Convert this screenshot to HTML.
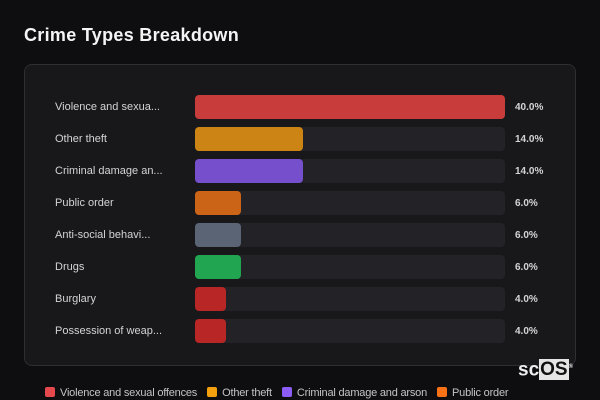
<!DOCTYPE html><html><head><style>
body{margin:0;width:600px;height:400px;background:#0e0e11;font-family:"Liberation Sans",sans-serif;overflow:hidden;position:relative;color:#d4d4d8}
.t{position:absolute;left:24px;top:25px;font-size:18px;font-weight:bold;color:#f4f4f5;letter-spacing:0.3px}
.p{position:absolute;left:24px;top:64px;width:550px;height:300px;background:#18181b;border:1px solid #2e2e33;border-radius:8px}
.r{position:absolute;left:0;height:24px;width:600px}
.l{position:absolute;left:55px;top:6px;font-size:11px;color:#d4d4d8}
.tr{position:absolute;left:195px;top:0;width:310px;height:24px;background:#232327;border-radius:4px}
.b{position:absolute;left:195px;top:0;height:24px;border-radius:4px}
.v{position:absolute;left:515px;top:7px;font-size:10px;font-weight:bold;color:#d4d4d8}
.lg{position:absolute;top:387px;left:45px;font-size:11px;color:#c4c4c8;white-space:nowrap;letter-spacing:-0.2px}
.lg span{display:inline-block;width:10px;height:10px;border-radius:2px;vertical-align:-1px;margin-right:5px}
.lg i{font-style:normal;margin-right:10px}
</style></head><body>
<div class="t">Crime Types Breakdown</div>
<div class="p"></div>
<div class="r" style="top:95px"><div class="l">Violence and sexua...</div><div class="tr"></div><div class="b" style="width:310px;background:#c93c3c"></div><div class="v">40.0%</div></div>
<div class="r" style="top:127px"><div class="l">Other theft</div><div class="tr"></div><div class="b" style="width:108px;background:#cc8514"></div><div class="v">14.0%</div></div>
<div class="r" style="top:159px"><div class="l">Criminal damage an...</div><div class="tr"></div><div class="b" style="width:108px;background:#7650cc"></div><div class="v">14.0%</div></div>
<div class="r" style="top:191px"><div class="l">Public order</div><div class="tr"></div><div class="b" style="width:46px;background:#cc6418"></div><div class="v">6.0%</div></div>
<div class="r" style="top:223px"><div class="l">Anti-social behavi...</div><div class="tr"></div><div class="b" style="width:46px;background:#5a6475"></div><div class="v">6.0%</div></div>
<div class="r" style="top:255px"><div class="l">Drugs</div><div class="tr"></div><div class="b" style="width:46px;background:#22a550"></div><div class="v">6.0%</div></div>
<div class="r" style="top:287px"><div class="l">Burglary</div><div class="tr"></div><div class="b" style="width:31px;background:#b82626"></div><div class="v">4.0%</div></div>
<div class="r" style="top:319px"><div class="l">Possession of weap...</div><div class="tr"></div><div class="b" style="width:31px;background:#b82626"></div><div class="v">4.0%</div></div>
<div style="position:absolute;left:518px;top:357px;font-size:19px;font-weight:bold;color:#eee;line-height:20px">sc<span style="background:#e5e5e5;color:#111;padding:0 1px">OS</span><sup style="font-size:6px">®</sup></div>
<div class="lg"><span style="background:#e5484d"></span><i>Violence and sexual offences</i><span style="background:#f5a00e"></span><i>Other theft</i><span style="background:#8b5cf6"></span><i>Criminal damage and arson</i><span style="background:#f97316"></span><i>Public order</i></div>
</body></html>
